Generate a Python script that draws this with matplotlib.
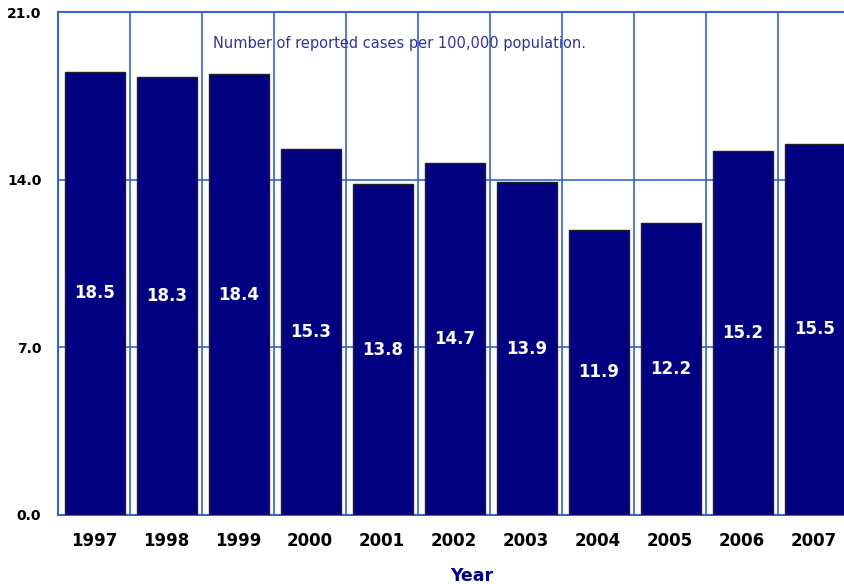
import numpy as np
import matplotlib
matplotlib.use("Agg")
import matplotlib.pyplot as plt

years = ["1997", "1998", "1999", "2000", "2001", "2002", "2003", "2004", "2005", "2006", "2007"]
rates = [18.5, 18.3, 18.4, 15.3, 13.8, 14.7, 13.9, 11.9, 12.2, 15.2, 15.5]
yticks = [0.0, 7.0, 14.0, 21.0]

NAVY = "#000080"
GRID = "#3366cc"

fig = plt.figure(figsize=(8.44, 5.84), dpi=100)
ax = fig.add_axes([58/844, 69/584, 786/844, 503/584])
x = np.arange(len(years))

ax.bar(x + 0.01, rates, width=0.83, color=NAVY, edgecolor="#222222", lw=1.0, zorder=3)
for xi, v in zip(x, rates):
    ax.text(xi + 0.01, v/2, f"{v:.1f}", color="white", ha="center", va="center",
            fontsize=12, weight="bold", zorder=4)

ax.set_xlim(-0.5, -0.5 + 786/72)
ax.set_ylim(0, 21)
for xi in x[:-1]:
    ax.axvline(xi + 0.5, color=GRID, lw=1.2, zorder=1)
for yv in yticks[1:-1]:
    ax.axhline(yv, color=GRID, lw=1.2, zorder=1)

ax.set_xticks(x)
ax.set_xticklabels(years, fontsize=12, weight="bold")
ax.set_yticks(yticks)
ax.set_yticklabels([f"{t:.1f}" for t in yticks], fontsize=10, weight="bold")
ax.tick_params(length=0, pad=12)
ax.tick_params(axis="y", pad=12)
for sp in ["top", "left", "bottom"]:
    ax.spines[sp].set_color(GRID); ax.spines[sp].set_linewidth(1.5)
ax.spines["right"].set_visible(False)

ax.text(0.435, 0.938, "Number of reported cases per 100,000 population.",
        transform=ax.transAxes, ha="center", va="center", fontsize=10.5, color="#333399")
ax.set_xlabel("Year", fontsize=12.5, weight="bold", color=NAVY)
ax.xaxis.set_label_coords((472 - 58)/786, -0.103)

fig.savefig("out.png", dpi=100)
